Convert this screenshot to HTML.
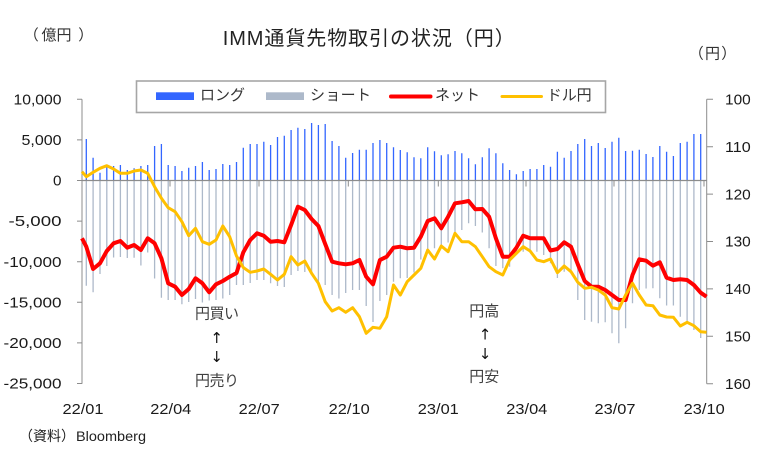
<!DOCTYPE html>
<html><head><meta charset="utf-8"><style>
html,body{margin:0;padding:0;background:#fff;}
svg{display:block;font-family:"Liberation Sans","Noto Sans CJK JP",sans-serif;}
</style></head><body>
<svg width="778" height="470" viewBox="0 0 778 470" xmlns="http://www.w3.org/2000/svg">
<rect width="778" height="470" fill="#fff"/>
<!-- title -->
<text x="222.7" y="45" font-size="20" fill="#222" textLength="292" lengthAdjust="spacing">IMM通貨先物取引の状況（円）</text>
<g font-size="15" fill="#333">
<text x="23.7" y="40">（</text>
<text x="41.5" y="40">億円</text>
<text x="78.3" y="40">）</text>
<text x="688.7" y="58.5">（</text>
<text x="705" y="58.5">円</text>
<text x="721.3" y="58.5">）</text>
</g>

<!-- legend -->
<rect x="136.5" y="81" width="469" height="31.5" fill="#fff" stroke="#A6A6A6" stroke-width="1.6"/>
<rect x="156" y="92.3" width="38" height="7.7" fill="#3366FF"/>
<text x="200" y="100" font-size="15" fill="#333" textLength="45" lengthAdjust="spacing">ロング</text>
<rect x="266" y="92.3" width="38" height="7.7" fill="#ADB9CA"/>
<text x="310" y="100" font-size="15" fill="#333" textLength="61" lengthAdjust="spacing">ショート</text>
<line x1="391" y1="96.5" x2="430.5" y2="96.5" stroke="#FF0000" stroke-width="4" stroke-linecap="round"/>
<text x="435" y="100" font-size="15" fill="#333" textLength="45" lengthAdjust="spacing">ネット</text>
<line x1="502" y1="96.5" x2="541.5" y2="96.5" stroke="#FFC000" stroke-width="3" stroke-linecap="round"/>
<text x="546.7" y="100" font-size="15" fill="#333" textLength="45" lengthAdjust="spacing">ドル円</text>

<!-- axes -->
<g stroke="#8C8C8C" stroke-width="1" fill="none">
<line x1="82" y1="99.3" x2="82" y2="383.7"/>
<path d="M77 99.3H82M77 139.9H82M77 180.5H82M77 221.1H82M77 261.7H82M77 302.3H82M77 342.9H82M77 383.5H82"/>
<line x1="706.7" y1="99.3" x2="706.7" y2="383.7"/>
<path d="M706.7 99.3H713M706.7 146.7H713M706.7 194.1H713M706.7 241.5H713M706.7 288.9H713M706.7 336.3H713M706.7 383.7H713"/>
</g>

<!-- long bars -->
<path fill="none" stroke="#3366FF" stroke-width="1.3" d="M86.3 180.5V139M93.1 180.5V157.7M100 180.5V172.7M106.8 180.5V166.7M113.6 180.5V166M120.4 180.5V165M127.3 180.5V170M134.1 180.5V168.3M140.9 180.5V166M147.7 180.5V165M154.6 180.5V146M161.4 180.5V144M168.2 180.5V165M175.1 180.5V166M181.9 180.5V171M188.7 180.5V167.7M195.5 180.5V166M202.4 180.5V162M209.2 180.5V170M216 180.5V169M222.8 180.5V164M229.7 180.5V165M236.5 180.5V162M243.3 180.5V147.7M250.2 180.5V144M257 180.5V144M263.8 180.5V141.7M270.6 180.5V145M277.5 180.5V137M284.3 180.5V135.7M291.1 180.5V130M297.9 180.5V127.7M304.8 180.5V129M311.6 180.5V123M318.4 180.5V125M325.2 180.5V124M332.1 180.5V141M338.9 180.5V146M345.7 180.5V157.7M352.6 180.5V153M359.4 180.5V149.7M366.2 180.5V149.7M373 180.5V143M379.9 180.5V140M386.7 180.5V143M393.5 180.5V147.3M400.3 180.5V150M407.2 180.5V152.3M414 180.5V157.3M420.8 180.5V158.3M427.7 180.5V147.3M434.5 180.5V151.3M441.3 180.5V155.3M448.1 180.5V154.3M455 180.5V151M461.8 180.5V153.3M468.6 180.5V158.3M475.4 180.5V164.3M482.3 180.5V157.3M489.1 180.5V148.3M495.9 180.5V153.3M502.8 180.5V163.3M509.6 180.5V170M516.4 180.5V174.3M523.2 180.5V171M530.1 180.5V169M536.9 180.5V169M543.7 180.5V165M550.5 180.5V166.7M557.4 180.5V151.7M564.2 180.5V157.7M571 180.5V151M577.8 180.5V144M584.7 180.5V139M591.5 180.5V146M598.3 180.5V143M605.2 180.5V148M612 180.5V141.7M618.8 180.5V137.7M625.6 180.5V151M632.5 180.5V150.7M639.3 180.5V149.7M646.1 180.5V154M652.9 180.5V157M659.8 180.5V146M666.6 180.5V151.7M673.4 180.5V156M680.3 180.5V143M687.1 180.5V141.7M693.9 180.5V134M700.7 180.5V134"/>

<!-- short bars -->
<path fill="none" stroke="#ADB9CA" stroke-width="1.3" d="M86.3 181V285.7M93.1 181V292.3M100 181V274M106.8 181V266M113.6 181V257.5M120.4 181V257M127.3 181V258M134.1 181V257.7M140.9 181V265.5M147.7 181V252.5M154.6 181V278.5M161.4 181V297.7M168.2 181V300M175.1 181V300M181.9 181V304.3M188.7 181V302M195.5 181V299M202.4 181V302.5M209.2 181V300.5M216 181V300M222.8 181V298.5M229.7 181V295M236.5 181V285M243.3 181V285M250.2 181V283M257 181V280M263.8 181V280M270.6 181V283.3M277.5 181V286M284.3 181V287M291.1 181V275M297.9 181V271M304.8 181V272M311.6 181V274M318.4 181V282M325.2 181V285M332.1 181V295M338.9 181V298.5M345.7 181V293M352.6 181V290M359.4 181V290M366.2 181V306M373 181V322M379.9 181V301M386.7 181V295M393.5 181V281.7M400.3 181V278.3M407.2 181V278M414 181V272.5M420.8 181V259.5M427.7 181V251.7M434.5 181V248.3M441.3 181V246M448.1 181V242.5M455 181V235M461.8 181V230M468.6 181V223.3M475.4 181V226M482.3 181V232.5M489.1 181V248.3M495.9 181V266M502.8 181V268.3M509.6 181V266.7M516.4 181V255M523.2 181V251.7M530.1 181V250M536.9 181V251.7M543.7 181V255M550.5 181V263.3M557.4 181V278M564.2 181V271.7M571 181V272.5M577.8 181V300M584.7 181V320M591.5 181V321.7M598.3 181V323.3M605.2 181V322.3M612 181V333.3M618.8 181V343.3M625.6 181V328.3M632.5 181V303.3M639.3 181V290M646.1 181V288.5M652.9 181V288.3M659.8 181V298.3M666.6 181V305.5M673.4 181V305.5M680.3 181V316.7M687.1 181V322.5M693.9 181V330M700.7 181V338"/>

<!-- zero line and date ticks -->
<g stroke="#8C8C8C" fill="none">
<line x1="82" y1="180.5" x2="706.7" y2="180.5" stroke-width="1.3"/>
<path stroke-width="1" d="M170 180.5V186.5M259 180.5V186.5M348.3 180.5V186.5M438.3 180.5V186.5M526 180.5V186.5M614 180.5V186.5M704 180.5V186.5"/>
</g>

<!-- net line -->
<polyline fill="none" stroke="#FF0000" stroke-width="4" stroke-linejoin="round" points="82,238.3 86.3,246.7 93.1,269 100,263.3 106.8,251 113.6,243.3 120.4,241 127.3,247.7 134.1,245 140.9,250 147.7,238.3 154.6,243.3 161.4,258.3 168.2,283.3 175.1,286.7 181.9,295 188.7,289 195.5,278.3 202.4,283.3 209.2,292.3 216,284.3 222.8,281 229.7,276.7 236.5,273 243.3,252.3 250.2,240 257,233.3 263.8,235.7 270.6,241.7 277.5,241 284.3,242.3 291.1,225 297.9,206.7 304.8,210 311.6,219 318.4,226 325.2,244 332.1,261.7 338.9,263.3 345.7,264.3 352.6,263.3 359.4,260 366.2,276.7 373,284.3 379.9,260 386.7,256.7 393.5,247.7 400.3,246.7 407.2,248.3 414,247.7 420.8,236.7 427.7,221 434.5,218.3 441.3,228.3 448.1,216.7 455,203.3 461.8,202.3 468.6,201 475.4,209.3 482.3,209 489.1,216.7 495.9,238.3 502.8,256.7 509.6,256.7 516.4,247.7 523.2,235.7 530.1,238.3 536.9,238.3 543.7,238.3 550.5,250.5 557.4,249 564.2,242.3 571,246.7 577.8,264.3 584.7,281 591.5,286.7 598.3,286.7 605.2,290 612,295 618.8,300 625.6,300 632.5,275 639.3,259.3 646.1,260.7 652.9,265.7 659.8,262.3 666.6,277.7 673.4,280 680.3,279.3 687.1,280 693.9,285 700.7,292.7 706.5,296.7"/>

<!-- usd/jpy line -->
<polyline fill="none" stroke="#FFC000" stroke-width="3" stroke-linejoin="round" points="82,171.7 86.3,176.7 93.1,172.3 100,168.3 106.8,165.7 113.6,169 120.4,173.3 127.3,173.3 134.1,171 140.9,170 147.7,173.3 154.6,186.7 161.4,198.3 168.2,207.7 175.1,211.7 181.9,221.7 188.7,235.7 195.5,228.3 202.4,241.7 209.2,244.3 216,240 222.8,226 229.7,236.7 236.5,256 243.3,267.5 250.2,272.3 257,271 263.8,269 270.6,274.3 277.5,280 284.3,274.3 291.1,256.7 297.9,265 304.8,261 311.6,273.3 318.4,283.3 325.2,301.7 332.1,311 338.9,307.7 345.7,312.3 352.6,307.7 359.4,316.7 366.2,333.3 373,327.3 379.9,328.3 386.7,316.7 393.5,285 400.3,295 407.2,281.7 414,275 420.8,268.3 427.7,250 434.5,259 441.3,246 448.1,251.7 455,233.3 461.8,241.7 468.6,241.7 475.4,246.7 482.3,256.7 489.1,266.7 495.9,271.7 502.8,275 509.6,260 516.4,253.3 523.2,246.7 530.1,251 536.9,260 543.7,261.7 550.5,259 557.4,272.7 564.2,266 571,271.7 577.8,282.3 584.7,288.3 591.5,287.3 598.3,290 605.2,295 612,307.7 618.8,309 625.6,295 632.5,283.3 639.3,295 646.1,305 652.9,305.7 659.8,315 666.6,317 673.4,317.3 680.3,326 687.1,322.3 693.9,325.7 700.7,331.7 706.5,332.3"/>

<!-- left axis labels -->
<g font-size="15" fill="#1a1a1a" text-anchor="end">
<text x="61.5" y="104.5" textLength="48" lengthAdjust="spacingAndGlyphs">10,000</text>
<text x="61.5" y="145" textLength="40" lengthAdjust="spacingAndGlyphs">5,000</text>
<text x="61.5" y="185.5" textLength="8.5" lengthAdjust="spacingAndGlyphs">0</text>
<text x="61.5" y="226.2" textLength="53" lengthAdjust="spacingAndGlyphs">-5,000</text>
<text x="61.5" y="266.8" textLength="58" lengthAdjust="spacingAndGlyphs">-10,000</text>
<text x="61.5" y="307.4" textLength="58" lengthAdjust="spacingAndGlyphs">-15,000</text>
<text x="61.5" y="348" textLength="58" lengthAdjust="spacingAndGlyphs">-20,000</text>
<text x="61.5" y="388.6" textLength="58" lengthAdjust="spacingAndGlyphs">-25,000</text>
</g>
<!-- right axis labels -->
<g font-size="15" fill="#1a1a1a">
<text x="725" y="104.5" textLength="25.7" lengthAdjust="spacingAndGlyphs">100</text>
<text x="725" y="151.9" textLength="25.7" lengthAdjust="spacingAndGlyphs">110</text>
<text x="725" y="199.3" textLength="25.7" lengthAdjust="spacingAndGlyphs">120</text>
<text x="725" y="246.7" textLength="25.7" lengthAdjust="spacingAndGlyphs">130</text>
<text x="725" y="294.1" textLength="25.7" lengthAdjust="spacingAndGlyphs">140</text>
<text x="725" y="341.5" textLength="25.7" lengthAdjust="spacingAndGlyphs">150</text>
<text x="725" y="388.9" textLength="25.7" lengthAdjust="spacingAndGlyphs">160</text>
</g>
<!-- x labels -->
<g font-size="15" fill="#1a1a1a">
<text x="62.5" y="414" textLength="41" lengthAdjust="spacingAndGlyphs">22/01</text>
<text x="150.3" y="414" textLength="41" lengthAdjust="spacingAndGlyphs">22/04</text>
<text x="238.7" y="414" textLength="41" lengthAdjust="spacingAndGlyphs">22/07</text>
<text x="328.7" y="414" textLength="41" lengthAdjust="spacingAndGlyphs">22/10</text>
<text x="417.8" y="414" textLength="41" lengthAdjust="spacingAndGlyphs">23/01</text>
<text x="506.3" y="414" textLength="41" lengthAdjust="spacingAndGlyphs">23/04</text>
<text x="594.5" y="414" textLength="41" lengthAdjust="spacingAndGlyphs">23/07</text>
<text x="683.7" y="414" textLength="41" lengthAdjust="spacingAndGlyphs">23/10</text>
</g>

<!-- annotations -->
<g font-size="15" fill="#404040">
<text x="195" y="318.5" textLength="44" lengthAdjust="spacing">円買い</text>
<text x="195" y="385.5" textLength="44" lengthAdjust="spacing">円売り</text>
<text x="469.3" y="316" textLength="30" lengthAdjust="spacing">円高</text>
<text x="469.3" y="381.5" textLength="30" lengthAdjust="spacing">円安</text>
</g>
<g font-size="15" fill="#111" text-anchor="middle" font-family="DejaVu Sans, sans-serif">
<text x="216.7" y="343">↑</text>
<text x="216.7" y="362">↓</text>
<text x="485" y="339.5">↑</text>
<text x="485" y="359">↓</text>
</g>

<!-- source -->
<text x="19" y="441" font-size="14" fill="#222" textLength="56" lengthAdjust="spacing">（資料）</text>
<text x="76" y="441" font-size="14" fill="#222" textLength="70" lengthAdjust="spacingAndGlyphs">Bloomberg</text>
</svg>
</body></html>
